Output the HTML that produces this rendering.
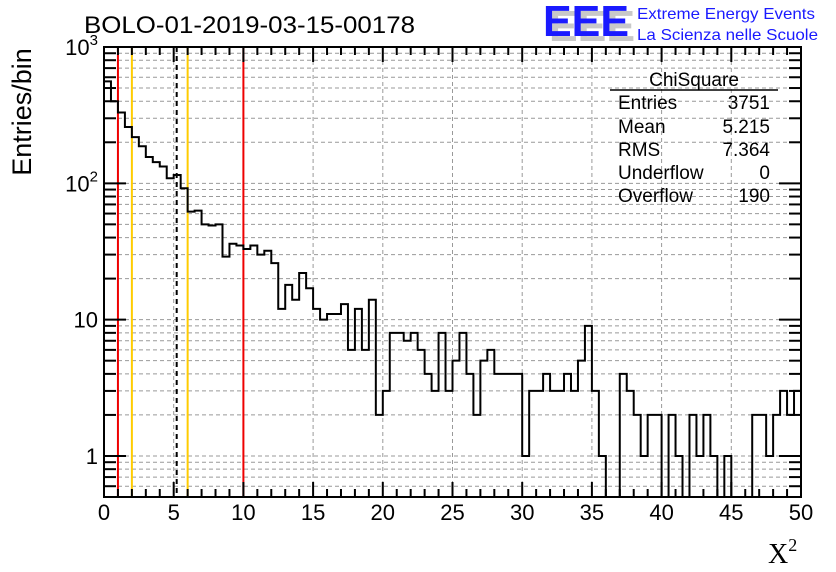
<!DOCTYPE html>
<html><head><meta charset="utf-8"><style>
html,body{margin:0;padding:0;background:#fff;}
svg{display:block;font-family:"Liberation Sans",sans-serif;}
</style></head><body>
<svg id="chart" width="836" height="572" viewBox="0 0 836 572">
<g id="grid"></g>
<g id="vlines"></g>
<path id="hist" fill="none" stroke="#000" stroke-width="2"/>
<rect x="104" y="47" width="697" height="450" fill="none" stroke="#000" stroke-width="2"/>
<g id="ticks"></g>
<g id="xlabels" font-size="22" text-anchor="middle"></g>
<g id="ylabels" font-size="22" text-anchor="end"></g>
<text x="84" y="33" font-size="24" textLength="331" lengthAdjust="spacingAndGlyphs">BOLO-01-2019-03-15-00178</text>
<text transform="translate(31,112) rotate(-90)" font-size="27" text-anchor="middle">Entries/bin</text>
<text x="768" y="563" font-size="28" font-family="Liberation Serif, serif">X<tspan font-size="18" dy="-12">2</tspan></text>
<g>
<text x="549" y="41" font-size="44" font-weight="bold" fill="#c8c8c8" textLength="86" lengthAdjust="spacingAndGlyphs">EEE</text>
<text x="543" y="36" font-size="44" font-weight="bold" fill="#1a1aff" textLength="86" lengthAdjust="spacingAndGlyphs">EEE</text>
<text x="637" y="19" font-size="16" fill="#1a1aff" textLength="178" lengthAdjust="spacingAndGlyphs">Extreme Energy Events</text>
<text x="637" y="40" font-size="16" fill="#1a1aff" textLength="181" lengthAdjust="spacingAndGlyphs">La Scienza nelle Scuole</text>
</g>
<g font-size="19">
<text x="694" y="86" text-anchor="middle">ChiSquare</text>
<line x1="610" y1="90" x2="778" y2="90" stroke="#000" stroke-width="1.5"/>
<text x="618" y="109">Entries</text><text x="770" y="109" text-anchor="end">3751</text>
<text x="618" y="133">Mean</text><text x="770" y="133" text-anchor="end">5.215</text>
<text x="618" y="156">RMS</text><text x="770" y="156" text-anchor="end">7.364</text>
<text x="618" y="179">Underflow</text><text x="770" y="179" text-anchor="end">0</text>
<text x="618" y="202">Overflow</text><text x="770" y="202" text-anchor="end">190</text>
</g>
</svg>
<script>
const binEdgesMin = 0;
const binWidth = 0.5;
const counts = [560,400,331,259,218,187,156,143,133,109,115,92,62,63,50,49,50,29,36,35,33,35,30,32,26,12,18,14,22,17,12,10,11,11,13,6,12,6,14,2,3,8,8,7,8,6,4,3,8,3,5,8,4,2,5,6,4,4,4,4,1,3,3,4,3,3,4,3,5,9,3,1,0,0,4,3,2,1,2,2,0,2,1,0,2,1,2,1,0,1,0,0,0,2,2,1,2,3,2,3];
const xTicks = [0,5,10,15,20,25,30,35,40,45,50];
const yTicks = [1,10,100,1000];
const yTickLabels = ["1","10","10²","10³"];
const refLines = [{x:1,c:"#ee0000",d:""},{x:2,c:"#ffcc00",d:""},{x:5.215,c:"#000",d:"5,4"},{x:6,c:"#ffcc00",d:""},{x:10,c:"#ee0000",d:""}];

const X0=104,X1=801,Y0=497,Y1=47,XMIN=0,XMAX=50,YMIN=0.5,YMAX=1000;
const sx=v=>X0+(v-XMIN)/(XMAX-XMIN)*(X1-X0);
const sy=v=>v<=0?Y0:Math.max(Y1,Math.min(Y0,Y0-(Math.log10(v)-Math.log10(YMIN))/(Math.log10(YMAX)-Math.log10(YMIN))*(Y0-Y1)));
const NS="http://www.w3.org/2000/svg";
function mk(t,a,p){const e=document.createElementNS(NS,t);for(const k in a)e.setAttribute(k,a[k]);p.appendChild(e);return e;}
const grid=document.getElementById('grid'),ticks=document.getElementById('ticks');
for(const t of xTicks){if(t===XMIN||t===XMAX)continue;
 const l=mk('line',{x1:sx(t),x2:sx(t),y1:Y1,y2:Y0,stroke:'#999','stroke-dasharray':'4,3','stroke-width':1},grid);
 
 }
for(let d=0.1;d<1000;d*=10){for(let m=1;m<=9;m++){const v=Math.round(d*m*100)/100;if(v<YMIN||v>=YMAX)continue;const y=sy(v);
 const l=mk('line',{x1:X0,x2:X1,y1:y,y2:y,stroke:'#999','stroke-dasharray':'4,3','stroke-width':1},grid);
 
 
 const major=(m===1);const len=major?22:12;
 const t1=mk('line',{x1:X0,x2:X0+len,y1:y,y2:y,stroke:'#000','stroke-width':2},ticks);
 
 
 const t2=mk('line',{x1:X1-len,x2:X1,y1:y,y2:y,stroke:'#000','stroke-width':2},ticks);
 
 }}
for(let v=XMIN;v<=XMAX;v++){const major=v%5===0;const len=major?15:8;const x=sx(v);
 const a=mk('line',{x1:x,x2:x,y1:Y0,y2:Y0-len,stroke:'#000','stroke-width':2},ticks);
 
 
 const b=mk('line',{x1:x,x2:x,y1:Y1,y2:Y1+len,stroke:'#000','stroke-width':2},ticks);
 
 }
const xl=document.getElementById('xlabels');
xTicks.forEach(t=>{const e=mk('text',{x:sx(t),y:520},xl);e.textContent=t;
 
 });
const yl=document.getElementById('ylabels');
yTicks.forEach((t,i)=>{const e=mk('text',{x:98,y:sy(t)+8},yl);
 const lab=yTickLabels[i];
 if(lab.length>2&&/[²³]/.test(lab)){e.textContent='10';const s=mk('tspan',{dy:-10,'font-size':15},e);s.textContent=lab.endsWith('²')?'2':'3';}else e.textContent=lab;
 
 });
const vg=document.getElementById('vlines');
refLines.forEach(r=>{const a={x1:sx(r.x),x2:sx(r.x),y1:Y1,y2:Y0,stroke:r.c,'stroke-width':2};if(r.d)a['stroke-dasharray']=r.d;
 const l=mk('line',a,vg);
 
 });
let d='';
counts.forEach((c,i)=>{const xa=sx(binEdgesMin+i*binWidth),xb=sx(binEdgesMin+(i+1)*binWidth),y=sy(c);
 if(i===0)d+='M'+xa+','+y;else d+='L'+xa+','+y;d+='L'+xb+','+y;});
document.getElementById('hist').setAttribute('d',d);
</script>
</body></html>
